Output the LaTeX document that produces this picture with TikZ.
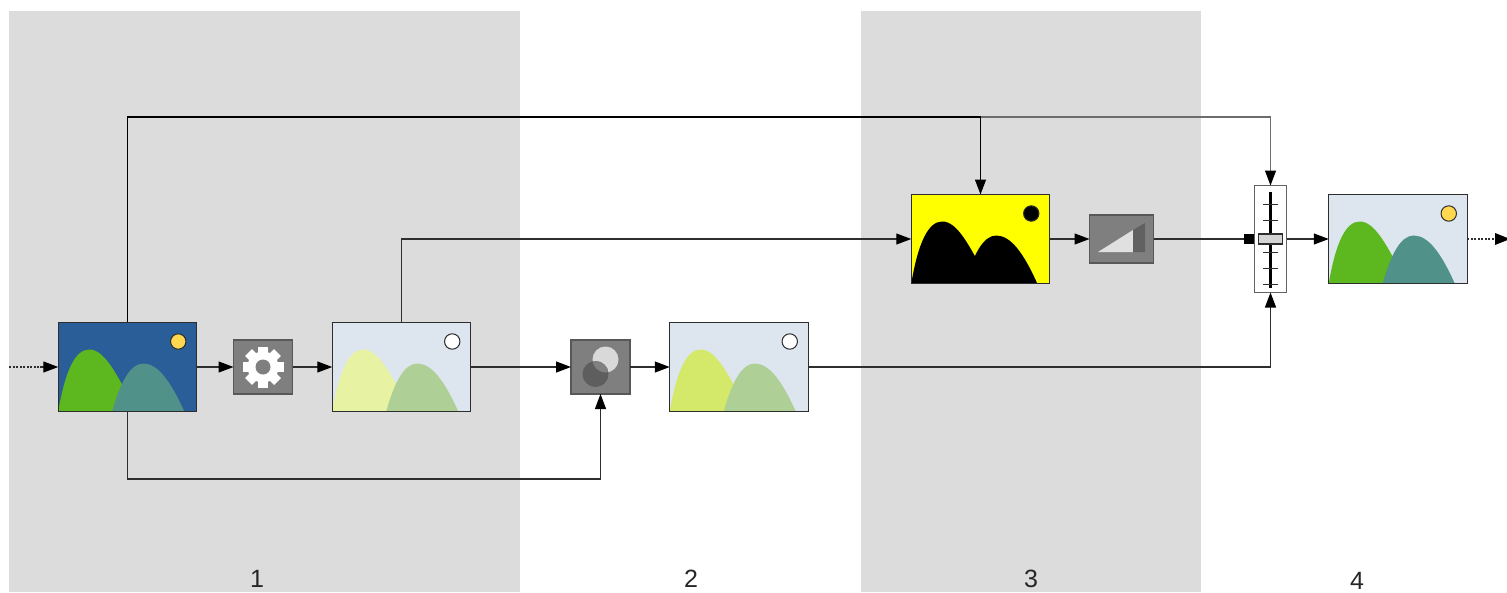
\documentclass[tikz,border=0pt]{standalone}
\usepackage{fontspec}
\setmainfont{Liberation Sans}
\usetikzlibrary{arrows.meta}
\definecolor{bandgrey}{HTML}{DCDCDC}
\definecolor{linegrey}{HTML}{2E2E2E}
\definecolor{boxgrey}{HTML}{7F7F7F}
\definecolor{skyblue}{HTML}{2A5E98}
\definecolor{skypale}{HTML}{DDE5EF}
\definecolor{mgreen}{HTML}{5DB71E}
\definecolor{mteal}{HTML}{50918A}
\definecolor{mpale}{HTML}{E8F2A3}
\definecolor{mlime}{HTML}{D4E969}
\definecolor{msage}{HTML}{AECF95}
\definecolor{sunyellow}{HTML}{FFD84F}
\definecolor{maskyellow}{HTML}{FFFF00}
\tikzset{
  band/.style={fill=bandgrey,draw=none},
  picbox/.style={rectangle,draw=linegrey,line width=1.2pt,minimum width=138.5pt,minimum height=89pt,inner sep=0pt,outer sep=0pt},
  toolbox/.style={rectangle,draw=linegrey!80,fill=boxgrey,line width=1.4pt,minimum width=59pt,minimum height=54pt,inner sep=0pt,outer sep=0pt},
  conn/.style={draw=linegrey,line width=1.2pt,-{Triangle[length=15pt,width=11pt,color=black,fill=black]}},
  plain/.style={draw=linegrey,line width=1.2pt},
  dotconn/.style={draw=linegrey,line width=1.3pt,dash pattern=on 2pt off 1.5pt},
  lab/.style={font=\fontsize{25}{25}\selectfont,inner sep=0pt,text=black!85}
}
% #1 node, #2 background, #3 left hill, #4 right hill, #5 sun
\newcommand{\scenepic}[5]{%
  \begin{scope}[shift={(#1.north west)}]
    \fill[#2] (0,0) rectangle (138.5,89);
    \fill[#3] (0,89) .. controls (7,48) and (17,27) .. (31,27) .. controls (46,27) and (58,50) .. (78,89) -- cycle;
    \fill[#4] (54,89) .. controls (62,60) and (72,41) .. (85,41) .. controls (100,41) and (113,60) .. (126,89) -- cycle;
    \filldraw[fill=#5,draw=linegrey,line width=1pt] (120,19) circle (7.7);
    \draw[linegrey,line width=1.2pt] (0,0) rectangle (138.5,89);
  \end{scope}}
\begin{document}
\begin{tikzpicture}[x=1pt,y=-1pt]
\useasboundingbox (0,0) rectangle (1507,592);
\fill[white] (0,0) rectangle (1507,592);
\fill[band] (9,11) rectangle (520,592);
\fill[band] (861,11) rectangle (1201,592);

\coordinate (inL) at (9,367);
\coordinate (inM) at (40,367);
\coordinate (outM) at (1494,239);
\coordinate (topy) at (127.5,117);
\coordinate (boty) at (127.5,479);
\node[picbox] (src) at (127.5,367) {};
\node[toolbox] (gear) at (263,367) {};
\node[picbox] (pale) at (401.5,367) {};
\node[toolbox] (blend) at (600.5,367) {};
\node[picbox] (mixd) at (739,367) {};
\node[picbox] (mask) at (980.5,239) {};
\node[toolbox,minimum width=64pt,minimum height=48pt] (ramp) at (1121.5,239) {};
\node[rectangle,draw=linegrey!75,fill=white,line width=1.2pt,minimum width=32pt,minimum height=107pt,inner sep=0pt,outer sep=0pt] (slider) at (1270.5,239) {};
\node[rectangle,fill=black,minimum width=10pt,minimum height=10pt,inner sep=0pt,outer sep=0pt] (port) at (1249,239) {};
\node[picbox] (res) at (1398,239) {};

% connectors
\draw[dotconn] (inL) -- (inM);
\draw[conn] (inM) -- (src.west);
\draw[conn] (src.east) -- (gear.west);
\draw[conn] (gear.east) -- (pale.west);
\draw[conn] (pale.east) -- (blend.west);
\draw[conn] (blend.east) -- (mixd.west);
\draw[conn] (src.south) |- (boty) -| (blend.south);
\draw[conn,draw=linegrey!70,line width=1.1pt] (mask.north |- topy) -| (slider.north);
\draw[conn,draw=black,line width=1.3pt] (src.north) |- (topy) -| (mask.north);
\draw[conn] (pale.north) |- (mask.west);
\draw[conn] (mask.east) -- (ramp.west);
\draw[plain] (ramp.east) -- (port.west);
\draw[conn] (mixd.east) -| (slider.south);
\draw[conn] (slider.east) -- (res.west);
\draw[dotconn] (res.east) -- (outM);
\draw[draw=none,fill=black] (1495,233) -- (1510,239) -- (1495,245) -- cycle;

% pictures
\scenepic{src}{skyblue}{mgreen}{mteal}{sunyellow}
\scenepic{pale}{skypale}{mpale}{msage}{white}
\scenepic{mixd}{skypale}{mlime}{msage}{white}
\scenepic{mask}{maskyellow}{black}{black}{black}
\scenepic{res}{skypale}{mgreen}{mteal}{sunyellow}

% gear
\begin{scope}[shift={(gear.center)}]
  \fill[white] (0,0) circle (15.5);
  \foreach \a in {0,45,...,315}{
    \fill[white,rotate=\a] (-4.8,-12) rectangle (4.8,-20.5);
  }
  \fill[boxgrey] (0,0) circle (7.5);
\end{scope}

% blend
\begin{scope}[shift={(blend.center)}]
  \fill[black!15] (5,-7.5) circle (13);
  \fill[black!63] (-5,7) circle (13);
  \begin{scope}
    \clip (5,-7.5) circle (13);
    \fill[black!50] (-5,7) circle (13);
  \end{scope}
\end{scope}

% ramp
\begin{scope}[shift={(ramp.center)}]
  \fill[black!12] (-23.5,13) -- (11.5,-9) -- (11.5,13) -- cycle;
  \fill[black!62] (11.5,-9) -- (23.5,-16) -- (23.5,13) -- (11.5,13) -- cycle;
\end{scope}

% slider
\begin{scope}[shift={(slider.center)}]
  \draw[black,line width=2.6pt] (0,-47) -- (0,49);
  \foreach \t in {-35,-19,13,29,45}{
    \draw[linegrey,line width=1pt] (-7.5,\t) -- (7.5,\t);
  }
  \filldraw[fill=black!17,draw=linegrey,line width=1.2pt] (-12,-5) rectangle (12,5);
\end{scope}

% labels
\node[lab] (l1) at (257,579) {1};
\node[lab] (l2) at (691,579) {2};
\node[lab] (l3) at (1031,579) {3};
\node[lab] (l4) at (1357,581) {4};
\end{tikzpicture}
\end{document}
